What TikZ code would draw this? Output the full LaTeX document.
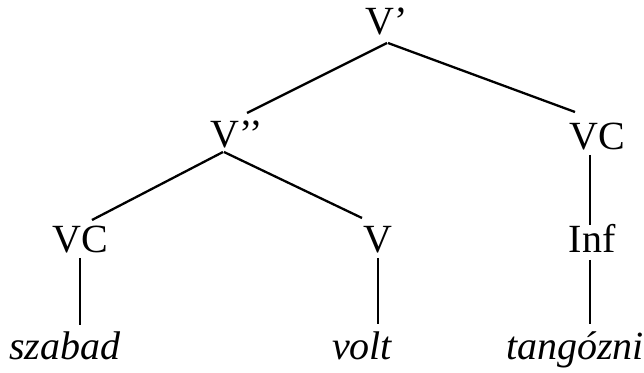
\documentclass[tikz,border=0pt]{standalone}
\usepackage{fontspec}
\setmainfont{Liberation Serif}
\usetikzlibrary{calc}
\begin{document}
\begin{tikzpicture}[x=1pt,y=1pt,
  lbl/.style={inner sep=0pt,anchor=base,font=\fontsize{40}{42}\selectfont},
  word/.style={inner sep=0pt,anchor=base,font=\fontsize{40}{42}\selectfont\itshape},
  edge/.style={line width=2.3pt}]
\path[use as bounding box] (0,0) rectangle (644,372);
\node[lbl] (Vp) at (387,337) {V’};
\node[lbl] (Vpp) at (237,224) {V’’};
\node[lbl] (VCr) at (597,222) {VC};
\node[lbl] (VCl) at (80,119) {VC};
\node[lbl] (V) at (378,120) {V};
\node[lbl] (Inf) at (592,120) {Inf};
\node[word] (szabad) at (65,13) {szabad};
\node[word] (volt) at (362,13) {volt};
\node[word] (tang) at (575,13) {tangózni};
\draw[edge] ($(Vp.base)+(0,-8)$) -- ($(Vpp.base)+(10,35)$);
\draw[edge] ($(Vp.base)+(1,-8)$) -- ($(VCr.base)+(-22,38)$);
\draw[edge] ($(Vpp.base)+(-14,-4)$) -- ($(VCl.base)+(12,33)$);
\draw[edge] ($(Vpp.base)+(-13,-4)$) -- ($(V.base)+(-16,34)$);
\draw[edge] ($(VCr.base)+(-7,-5)$) -- ($(Inf.base)+(-2,27)$);
\draw[edge] ($(VCl.base)+(0,-5)$) -- ($(szabad.base)+(15,34)$);
\draw[edge] ($(V.base)+(0,-6)$) -- ($(volt.base)+(16,35)$);
\draw[edge] ($(Inf.base)+(-2,-8)$) -- ($(tang.base)+(15,35)$);
\end{tikzpicture}
\end{document}
